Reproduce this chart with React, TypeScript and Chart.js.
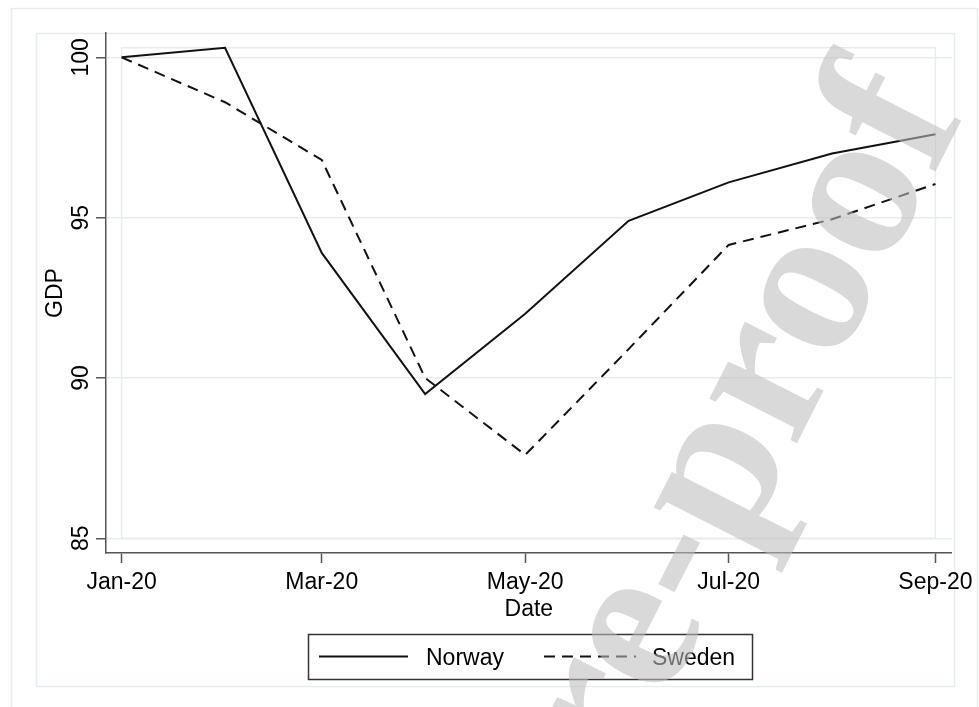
import React, { useEffect, useRef } from "react";
import { Chart, registerables } from "chart.js";

Chart.register(...registerables);

// ---- data ----
const monthDates = [
  "2020-01-01", "2020-02-01", "2020-03-01", "2020-04-01", "2020-05-01",
  "2020-06-01", "2020-07-01", "2020-08-01", "2020-09-01",
];
const norwayGDP = [100, 100.3, 93.9, 89.5, 92.0, 94.9, 96.1, 97.0, 97.6];
const swedenGDP = [100, 98.6, 96.8, 90.0, 87.6, 90.9, 94.15, 94.95, 96.05];
const seriesLabels = ["Norway", "Sweden"];
const xTickDates = ["2020-01-01", "2020-03-01", "2020-05-01", "2020-07-01", "2020-09-01"];
const xTickLabels = ["Jan-20", "Mar-20", "May-20", "Jul-20", "Sep-20"];
const yTickValues = [85, 90, 95, 100];
const xTitle = "Date";
const yTitle = "GDP";
const watermarkText = "Journal Pre-proof";

const DAY = 86400000;
const dayOffset = (d: string) => (Date.parse(d) - Date.parse(monthDates[0])) / DAY;

const FONT = "'Liberation Sans', Arial, sans-serif";
const LIGHT = "#e5edf0";
const AXIS = "#555555";

const decorPlugin = {
  id: "stataDecor",
  beforeDraw(chart: any) {
    const ctx = chart.ctx;
    ctx.save();
    ctx.fillStyle = "#ffffff";
    ctx.fillRect(0, 0, chart.width, chart.height);
    ctx.strokeStyle = LIGHT;
    ctx.lineWidth = 1.5;
    // outer graph box
    ctx.strokeRect(11.5, 8.5, 966, 720);
    // inner box
    ctx.strokeRect(36.5, 33.5, 918, 653);
    // plot region
    const xs = chart.scales.x;
    const ys = chart.scales.y;
    const l = xs.getPixelForValue(dayOffset(monthDates[0]));
    const r = xs.getPixelForValue(dayOffset(monthDates[monthDates.length - 1]));
    const t = ys.getPixelForValue(100.3);
    const b = ys.getPixelForValue(85);
    ctx.strokeRect(l, t, r - l, b - t);
    ctx.restore();
  },
  afterDraw(chart: any) {
    const ctx = chart.ctx;
    const ys = chart.scales.y;
    const area = chart.chartArea;
    ctx.save();
    ctx.fillStyle = "#000";
    ctx.font = `23px ${FONT}`;
    // y tick labels, rotated
    yTickValues.forEach((v) => {
      const y = ys.getPixelForValue(v);
      ctx.save();
      ctx.translate(88, y);
      ctx.rotate(-Math.PI / 2);
      ctx.textAlign = "center";
      ctx.textBaseline = "alphabetic";
      ctx.fillText(String(v), 0, 0);
      ctx.restore();
    });
    // y title
    ctx.save();
    ctx.translate(62, (area.top + area.bottom) / 2);
    ctx.rotate(-Math.PI / 2);
    ctx.textAlign = "center";
    ctx.textBaseline = "alphabetic";
    ctx.fillText(yTitle, 0, 0);
    ctx.restore();
    // x title
    ctx.textAlign = "center";
    ctx.textBaseline = "alphabetic";
    ctx.fillText(xTitle, (area.left + area.right) / 2, 616);

    // legend
    ctx.strokeStyle = "#333";
    ctx.lineWidth = 1.5;
    ctx.strokeRect(308.5, 634.5, 444, 45);
    const ds = chart.data.datasets;
    const items = [
      { x0: 319, x1: 408, tx: 426 },
      { x0: 544, x1: 636, tx: 652 },
    ];
    items.forEach((it, i) => {
      ctx.save();
      ctx.strokeStyle = ds[i].borderColor;
      ctx.lineWidth = 2;
      ctx.setLineDash(ds[i].borderDash || []);
      ctx.beginPath();
      ctx.moveTo(it.x0, 656.5);
      ctx.lineTo(it.x1, 656.5);
      ctx.stroke();
      ctx.restore();
      ctx.textAlign = "left";
      ctx.fillText(seriesLabels[i], it.tx, 665);
    });

    // watermark
    ctx.save();
    ctx.translate(965, 113);
    ctx.rotate(-63 * Math.PI / 180);
    ctx.font = `bold 214px 'Liberation Serif', 'Times New Roman', serif`;
    ctx.fillStyle = "rgba(190,190,190,0.58)";
    ctx.textAlign = "right";
    ctx.textBaseline = "alphabetic";
    ctx.fillText(watermarkText, 0, 0);
    ctx.restore();
    ctx.restore();
  },
};

export default function App() {
  const ref = useRef<HTMLCanvasElement | null>(null);
  useEffect(() => {
    if (!ref.current) return;
    const chart = new Chart(ref.current, {
      type: "line",
      data: {
        datasets: [
          {
            label: seriesLabels[0],
            data: monthDates.map((d, i) => ({ x: dayOffset(d), y: norwayGDP[i] })),
            borderColor: "#111111",
            borderWidth: 2,
            pointRadius: 0,
            tension: 0,
            fill: false,
          },
          {
            label: seriesLabels[1],
            data: monthDates.map((d, i) => ({ x: dayOffset(d), y: swedenGDP[i] })),
            borderColor: "#111111",
            borderWidth: 2,
            borderDash: [11, 7],
            pointRadius: 0,
            tension: 0,
            fill: false,
          },
        ],
      },
      options: {
        responsive: false,
        animation: false,
        devicePixelRatio: 1,
        layout: { padding: { top: 33, right: 24, left: 0, bottom: 0 } },
        plugins: { legend: { display: false }, tooltip: { enabled: false } },
        scales: {
          x: {
            type: "linear",
            min: -4.69,
            max: 248.87,
            afterBuildTicks: (s: any) => {
              s.ticks = xTickDates.map((d) => ({ value: dayOffset(d) }));
            },
            afterFit: (s: any) => {
              s.height = 154;
            },
            ticks: {
              autoSkip: false,
              maxRotation: 0,
              minRotation: 0,
              padding: 6,
              color: "#000",
              font: { family: FONT, size: 23 },
              callback: (_v: any, i: number) => xTickLabels[i],
            },
            grid: {
              drawOnChartArea: false,
              drawTicks: true,
              tickLength: 10,
              tickColor: AXIS,
              tickWidth: 1.5,
            },
            border: { display: true, color: AXIS, width: 1.5 },
          },
          y: {
            type: "linear",
            min: 84.54,
            max: 100.76,
            afterBuildTicks: (s: any) => {
              s.ticks = yTickValues.map((v) => ({ value: v }));
            },
            afterFit: (s: any) => {
              s.width = 106;
            },
            ticks: { display: false },
            grid: {
              color: LIGHT,
              lineWidth: 1.5,
              drawTicks: true,
              tickLength: 10,
              tickColor: AXIS,
              tickWidth: 1.5,
            },
            border: { display: true, color: AXIS, width: 1.5 },
          },
        },
      },
      plugins: [decorPlugin],
    } as any);
    return () => chart.destroy();
  }, []);
  return (
    <div style={{ position: "absolute", left: 0, top: 0, width: 979, height: 707, background: "#fff" }}>
      <canvas ref={ref} width={979} height={707} style={{ display: "block" }} />
    </div>
  );
}
